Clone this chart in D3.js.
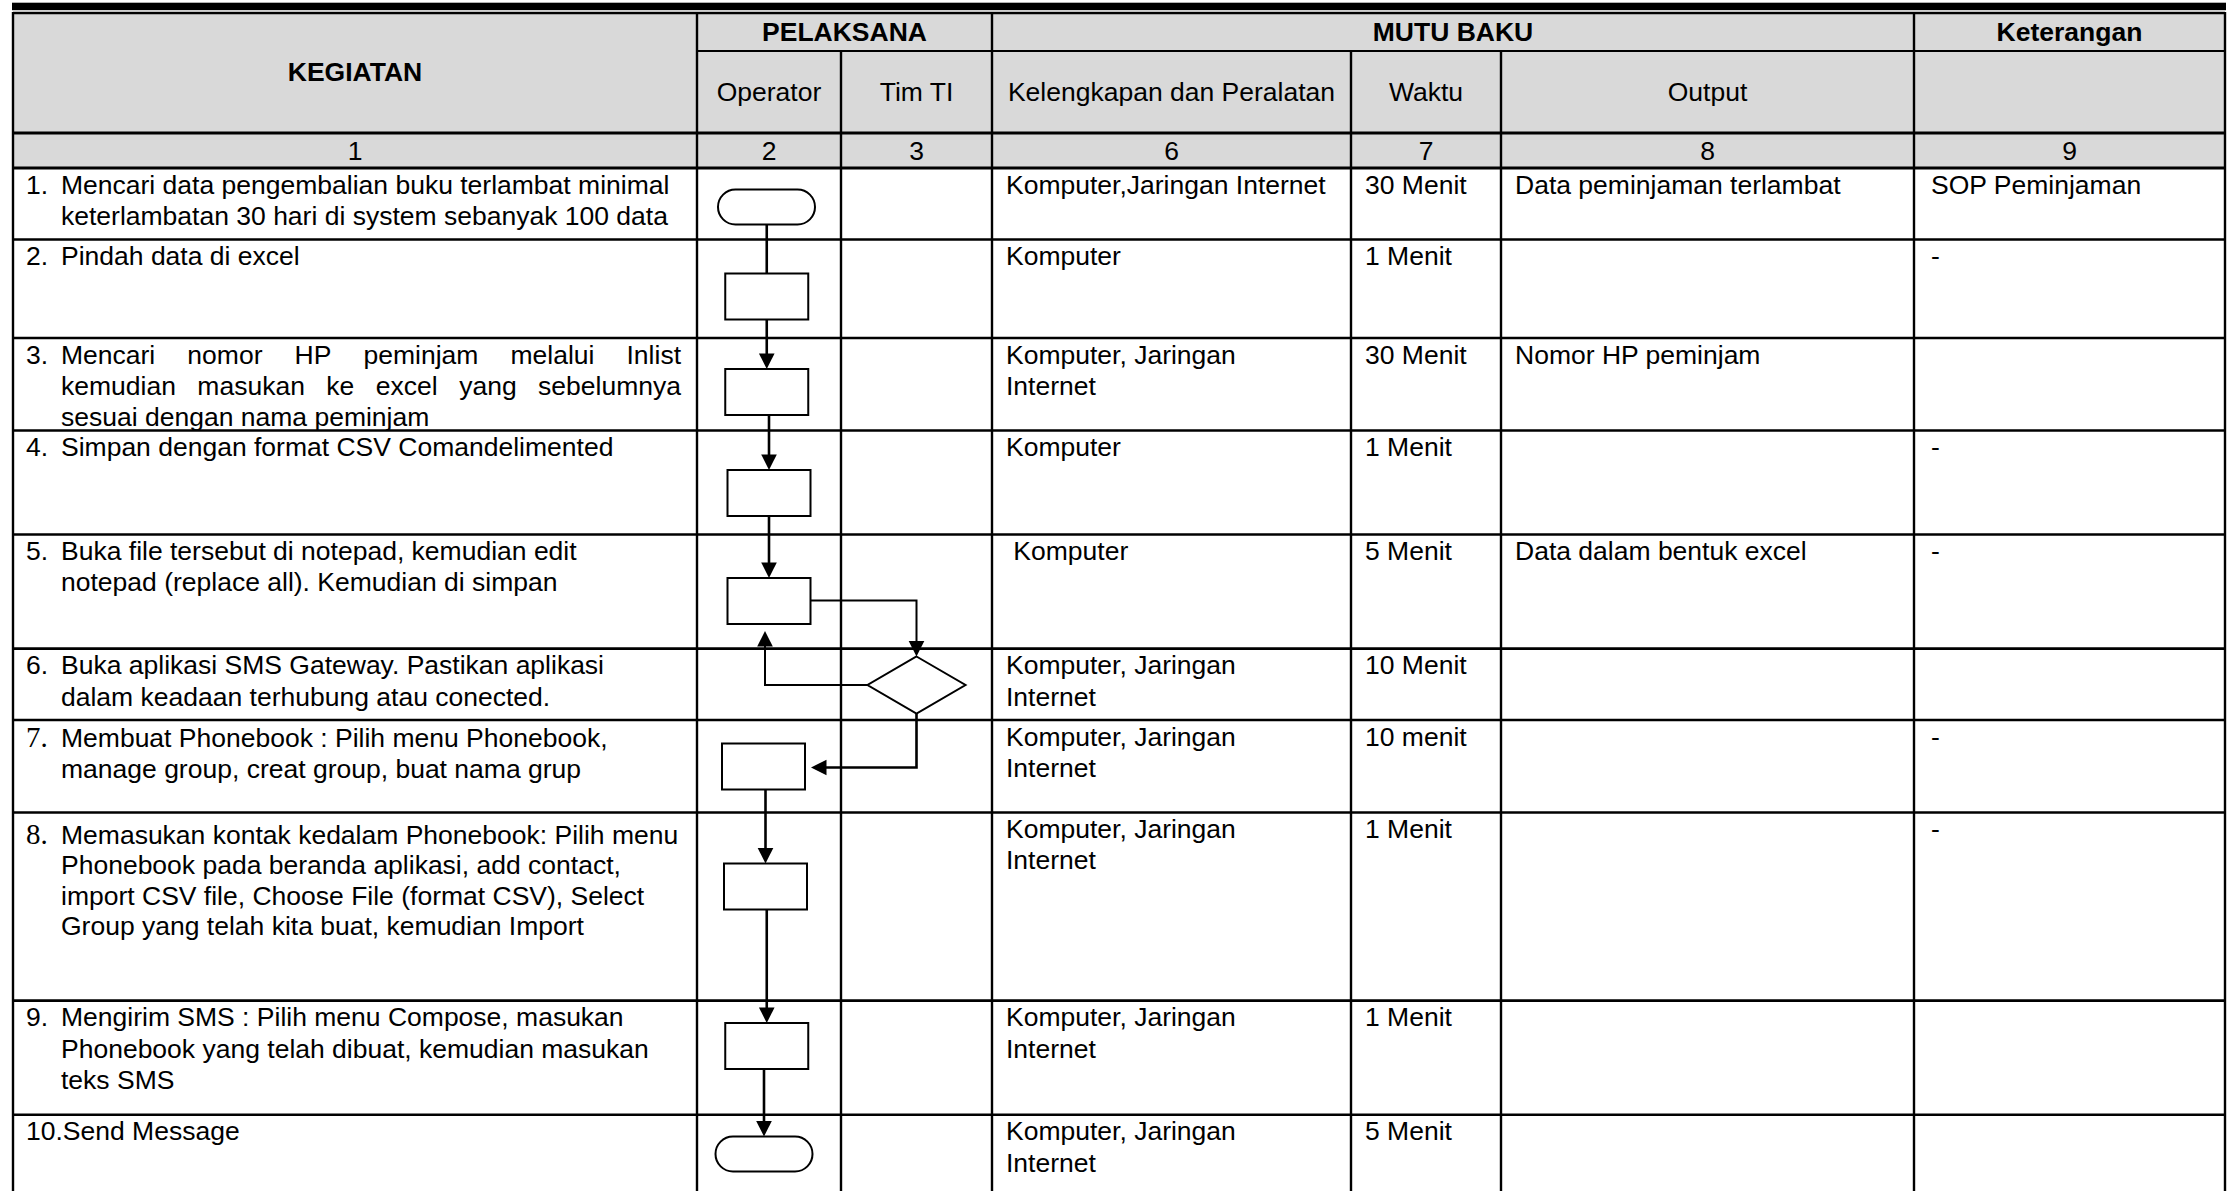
<!DOCTYPE html>
<html><head><meta charset="utf-8">
<script src="https://cdnjs.cloudflare.com/ajax/libs/d3/7.8.5/d3.min.js"></script>
<style>html,body{margin:0;padding:0;background:#fff;overflow:hidden}
text{font-family:"Liberation Sans",Arial,sans-serif;font-size:26.5px;fill:#000;white-space:pre}</style>
</head><body><svg id="c"></svg>
<script>
// ---------------- DATA ----------------
const groupHeaders = ["KEGIATAN", "PELAKSANA", "MUTU BAKU", "Keterangan"];
const subHeaders = ["Operator", "Tim TI", "Kelengkapan dan Peralatan", "Waktu", "Output"];
const columnNumbers = ["1", "2", "3", "6", "7", "8", "9"];
const stepNumbers = ["1.", "2.", "3.", "4.", "5.", "6.", "7.", "8.", "9.", "10."];
const stepTexts = [
  ["Mencari data pengembalian buku terlambat minimal", "keterlambatan 30 hari di system sebanyak 100 data"],
  ["Pindah data di excel"],
  ["Mencari nomor HP peminjam melalui Inlist", "kemudian masukan ke excel yang sebelumnya", "sesuai dengan nama peminjam"],
  ["Simpan dengan format CSV Comandelimented"],
  ["Buka file tersebut di notepad, kemudian edit", "notepad (replace all). Kemudian di simpan"],
  ["Buka aplikasi SMS Gateway. Pastikan aplikasi", "dalam keadaan terhubung atau conected."],
  ["Membuat Phonebook : Pilih menu Phonebook,", "manage group, creat group, buat nama grup"],
  ["Memasukan kontak kedalam Phonebook: Pilih menu", "Phonebook pada beranda aplikasi, add contact,", "import CSV file, Choose File (format CSV), Select", "Group yang telah kita buat, kemudian Import"],
  ["Mengirim SMS : Pilih menu Compose, masukan", "Phonebook yang telah dibuat, kemudian masukan", "teks SMS"],
  ["Send Message"]
];
const justifiedSteps = [2];
const equipment = [
  ["Komputer,Jaringan Internet"], ["Komputer"], ["Komputer, Jaringan", "Internet"], ["Komputer"],
  [" Komputer"], ["Komputer, Jaringan", "Internet"], ["Komputer, Jaringan", "Internet"],
  ["Komputer, Jaringan", "Internet"], ["Komputer, Jaringan", "Internet"], ["Komputer, Jaringan", "Internet"]
];
const durations = ["30 Menit", "1 Menit", "30 Menit", "1 Menit", "5 Menit", "10 Menit", "10 menit", "1 Menit", "1 Menit", "5 Menit"];
const outputs = ["Data peminjaman terlambat", "", "Nomor HP peminjam", "", "Data dalam bentuk excel", "", "", "", "", ""];
const remarks = ["SOP Peminjaman", "-", "", "-", "-", "", "-", "-", "", ""];
const flowShapes = ["terminator", "process", "process", "process", "process", "decision", "process", "process", "process", "terminator"];
const flowLanes = ["op", "op", "op", "op", "op", "tim", "op", "op", "op", "op"];
const flowLinks = [[0, 1, "line"], [1, 2, "down"], [2, 3, "down"], [3, 4, "down"], [4, 5, "rightDown"],
  [5, 4, "leftUp"], [5, 6, "downLeft"], [6, 7, "down"], [7, 8, "down"], [8, 9, "down"]];

// ---------------- LAYOUT ----------------
const W = 2235, H = 1191;
const colKeys = ["keg", "op", "tim", "kel", "wak", "out", "ket"];
const colEdges = [13, 697, 841, 992, 1351, 1501, 1914, 2225];
const xL = d3.scaleOrdinal().domain(colKeys).range(colEdges.slice(0, 7));
const xR = d3.scaleOrdinal().domain(colKeys).range(colEdges.slice(1));
const xC = k => (xL(k) + xR(k)) / 2;
const hdr = {top: 13, h1: 51, h2: 133, num: 168};
const rowEdges = [168, 239.5, 338, 430.5, 534.5, 648.6, 720, 812.5, 1000.6, 1114.7, 1260];
const rowIdx = d3.range(10);
const yT = d3.scaleOrdinal().domain(rowIdx).range(rowEdges.slice(0, 10));
const yB = d3.scaleOrdinal().domain(rowIdx).range(rowEdges.slice(1));
const lineH = 31.4;
const baseOff = 25.5;
const kegExtra = [0, 0, 0, 0, 0, 0, 1.5, 6, 0, 0];
const kegLineH = [lineH, lineH, lineH, lineH, lineH, lineH, lineH, 30.4, lineH, lineH];
// flow shape placement inside its row
const shapeDy = [39, 57, 54, 62.5, 66.5, 36.4, 46.5, 74, 45.4, 39.3];
const shapeDx = [-2.5, -2.25, -2.25, 0, 0, 0, -5.5, -3.5, -2.25, -5];
const shapeSize = {terminator: [97, 35], process: [83, 46], decision: [98, 57]};

const svg = d3.select("#c").attr("width", W).attr("height", H);
svg.append("rect").attr("width", W).attr("height", H).attr("fill", "#fff");

// top black bar
svg.append("rect").attr("x", 12).attr("y", 2.7).attr("width", 2214).attr("height", 7.5).attr("fill", "#000");

// header fill
svg.append("rect").attr("x", xL("keg")).attr("y", hdr.top).attr("width", xR("ket") - xL("keg"))
  .attr("height", hdr.num - hdr.top).attr("fill", "#d9d9d9");

// ---------------- GRID ----------------
const grid = svg.append("g").attr("stroke", "#000").attr("fill", "none");
const left = xL("keg"), right = xR("ket"), bottom = H + 20;
const hLines = [
  [left, right, hdr.top, 2.4], [xL("op"), right, hdr.h1, 2.2], [left, right, hdr.h2, 3.2], [left, right, hdr.num, 3.2]
].concat(rowEdges.slice(1, 10).map(y => [left, right, y, 2.6]));
grid.selectAll("line.h").data(hLines).join("line").attr("class", "h")
  .attr("x1", d => d[0]).attr("x2", d => d[1]).attr("y1", d => d[2]).attr("y2", d => d[2]).attr("stroke-width", d => d[3]);
const vLines = [
  [left, hdr.top], [xL("op"), hdr.top], [xL("tim"), hdr.h1], [xL("kel"), hdr.top],
  [xL("wak"), hdr.h1], [xL("out"), hdr.h1], [xL("ket"), hdr.top], [right, hdr.top]
];
grid.selectAll("line.v").data(vLines).join("line").attr("class", "v")
  .attr("x1", d => d[0]).attr("x2", d => d[0]).attr("y1", d => d[1] - 1).attr("y2", bottom).attr("stroke-width", 2.4);

// ---------------- HEADERS ----------------
const th = svg.append("g");
const bold = s => s.attr("font-weight", "bold").style("font-weight", "bold");
bold(th.append("text").attr("x", xC("keg")).attr("y", (hdr.top + hdr.h2) / 2 - 1.4).attr("dy", "0.36em")
  .attr("text-anchor", "middle").text(groupHeaders[0]));
const groupSpans = [[xL("op"), xR("tim")], [xL("kel"), xR("out")], [xL("ket"), xR("ket")]];
groupSpans.forEach((s, i) => bold(th.append("text").attr("x", (s[0] + s[1]) / 2).attr("y", (hdr.top + hdr.h1) / 2 - 1)
  .attr("dy", "0.36em").attr("text-anchor", "middle").text(groupHeaders[i + 1])));
th.selectAll("text.sub").data(subHeaders).join("text").attr("class", "sub")
  .attr("x", (d, i) => xC(colKeys[i + 1])).attr("y", (hdr.h1 + hdr.h2) / 2 - 0.5).attr("dy", "0.36em")
  .attr("text-anchor", "middle").text(d => d);
th.selectAll("text.num").data(columnNumbers).join("text").attr("class", "num")
  .attr("x", (d, i) => xC(colKeys[i])).attr("y", (hdr.h2 + hdr.num) / 2 - 0.5).attr("dy", "0.36em")
  .attr("text-anchor", "middle").text(d => d);

// ---------------- BODY TEXT ----------------
const body = svg.append("g");
const numX = xL("keg") + 13, txtX = 61, justW = 681 - 61;
function writeLine(g, str, x, y, jw) {
  const t = g.append("text").attr("x", x).attr("y", y).attr("xml:space", "preserve");
  if (!jw) { t.text(str); return t; }
  const words = str.split(" ");
  const spans = words.map(w => t.append("tspan").text(w));
  const ws = spans.map(s => s.node().getComputedTextLength());
  const gap = (jw - d3.sum(ws)) / (words.length - 1);
  let cx = x;
  spans.forEach((s, i) => { s.attr("x", cx); cx += ws[i] + gap; });
  return t;
}
rowIdx.forEach(i => {
  const y0 = yT(i) + baseOff + kegExtra[i];
  const num = stepNumbers[i];
  if (num === "10.") {
    writeLine(body, num + stepTexts[i][0], numX, y0);
  } else {
    const nt = writeLine(body, num, numX, y0);
    if (num === "7." || num === "8.") nt.style("font-family", "'Liberation Serif','Times New Roman',serif").style("font-size", "29px");
    stepTexts[i].forEach((ln, j) => {
      const jw = justifiedSteps.includes(i) && j < stepTexts[i].length - 1 ? justW : 0;
      writeLine(body, ln, txtX, y0 + j * kegLineH[i], jw);
    });
  }
  const yb = yT(i) + baseOff;
  equipment[i].forEach((ln, j) => writeLine(body, ln, xL("kel") + 14, yb + j * lineH));
  writeLine(body, durations[i], xL("wak") + 14, yb);
  if (outputs[i]) writeLine(body, outputs[i], xL("out") + 14, yb);
  if (remarks[i]) writeLine(body, remarks[i], xL("ket") + 17, yb);
});

// ---------------- FLOWCHART ----------------
const nodes = flowShapes.map((s, i) => {
  const [w, h] = shapeSize[s];
  const cx = xC(flowLanes[i]) + shapeDx[i], cy = yT(i) + shapeDy[i];
  return {s, cx, cy, w, h, l: cx - w / 2, r: cx + w / 2, t: cy - h / 2, b: cy + h / 2};
});
const fl = svg.append("g").attr("stroke", "#000").attr("fill", "none");
const ah = 15.5, aw = 7.8;
function arrowHead(x, y, dir) {
  let pts;
  if (dir === "down") pts = [[x, y], [x - aw, y - ah], [x + aw, y - ah]];
  if (dir === "up") pts = [[x, y], [x - aw, y + ah], [x + aw, y + ah]];
  if (dir === "left") pts = [[x, y], [x + ah, y - aw], [x + ah, y + aw]];
  fl.append("path").attr("d", "M" + pts.join("L") + "Z").attr("fill", "#000").attr("stroke", "none");
}
const line = d3.line();
flowLinks.forEach(([a, b, type]) => {
  const A = nodes[a], B = nodes[b];
  let pts;
  if (type === "line") pts = [[B.cx, A.b], [B.cx, B.t]];
  if (type === "down") { pts = [[B.cx, A.b], [B.cx, B.t - ah + 1]]; arrowHead(B.cx, B.t, "down"); }
  if (type === "rightDown") { pts = [[A.r, A.cy - 0.5], [B.cx, A.cy - 0.5], [B.cx, B.t - ah + 1]]; arrowHead(B.cx, B.t, "down"); }
  if (type === "leftUp") { const xx = B.cx - 4; pts = [[A.l, A.cy], [xx, A.cy], [xx, B.b + 7 + ah - 1]]; arrowHead(xx, B.b + 7, "up"); }
  if (type === "downLeft") { const yy = B.cy + 1; pts = [[A.cx, A.b], [A.cx, yy], [B.r + 6 + ah - 1, yy]]; arrowHead(B.r + 6, yy, "left"); }
  fl.append("path").attr("d", line(pts)).attr("stroke-width", type === "rightDown" || type === "leftUp" ? 2 : 2.6);
});
const shapes = svg.append("g").attr("stroke", "#000").attr("stroke-width", 2).attr("fill", "#fff");
nodes.forEach(n => {
  if (n.s === "process") shapes.append("rect").attr("x", n.l).attr("y", n.t).attr("width", n.w).attr("height", n.h);
  if (n.s === "terminator") shapes.append("rect").attr("x", n.l).attr("y", n.t).attr("width", n.w).attr("height", n.h)
    .attr("rx", n.h / 2).attr("ry", n.h / 2);
  if (n.s === "decision") shapes.append("path")
    .attr("d", `M${n.cx},${n.t}L${n.r},${n.cy}L${n.cx},${n.b}L${n.l},${n.cy}Z`);
});
</script></body></html>
